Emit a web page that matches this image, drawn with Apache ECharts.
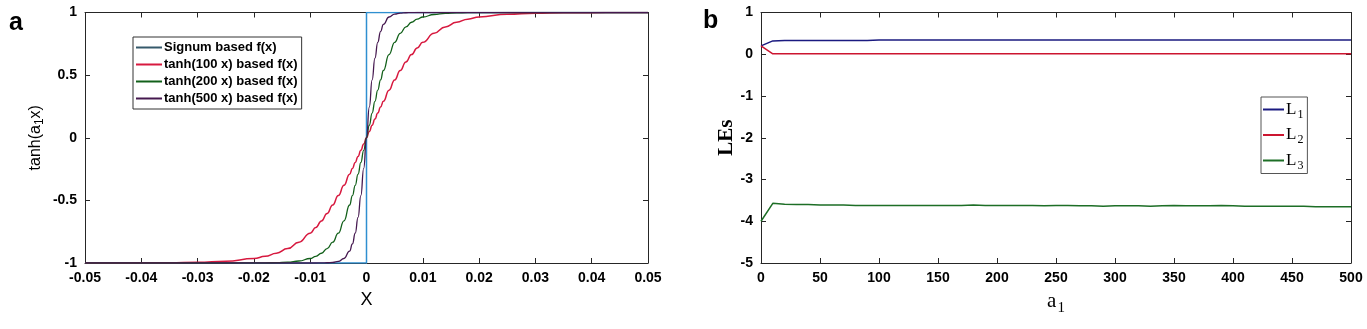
<!DOCTYPE html>
<html><head><meta charset="utf-8">
<script src="https://cdn.jsdelivr.net/npm/echarts@6/dist/echarts.min.js"></script>
<style>html,body{margin:0;padding:0;background:#fff}#c{width:1367px;height:329px}</style>
</head><body><div id="c"></div>
<script>
// ---- Panel a data ----
const xs = [-0.05,-0.045,-0.04,-0.035,-0.03,-0.025,-0.02,-0.018,-0.016,-0.014,-0.012,-0.01,-0.009,-0.008,-0.007,-0.006,-0.005,-0.004,-0.003,-0.0025,-0.002,-0.0015,-0.001,-0.0005,
  0,0.0005,0.001,0.0015,0.002,0.0025,0.003,0.004,0.005,0.006,0.007,0.008,0.009,0.01,0.012,0.014,0.016,0.018,0.02,0.025,0.03,0.035,0.04,0.045,0.05];
const tanh100 = [-1,-1,-0.999,-0.998,-0.995,-0.987,-0.964,-0.947,-0.922,-0.885,-0.834,-0.762,-0.716,-0.664,-0.604,-0.537,-0.462,-0.38,-0.291,-0.245,-0.197,-0.149,-0.1,-0.05,
  0,0.05,0.1,0.149,0.197,0.245,0.291,0.38,0.462,0.537,0.604,0.664,0.716,0.762,0.834,0.885,0.922,0.947,0.964,0.987,0.995,0.998,0.999,1,1];
const tanh200 = [-1,-1,-1,-1,-1,-1,-0.999,-0.999,-0.997,-0.993,-0.984,-0.964,-0.947,-0.922,-0.885,-0.834,-0.762,-0.664,-0.537,-0.462,-0.38,-0.291,-0.197,-0.1,
  0,0.1,0.197,0.291,0.38,0.462,0.537,0.664,0.762,0.834,0.885,0.922,0.947,0.964,0.984,0.993,0.997,0.999,0.999,1,1,1,1,1,1];
const tanh500 = [-1,-1,-1,-1,-1,-1,-1,-1,-1,-1,-1,-1,-1,-0.999,-0.998,-0.995,-0.987,-0.964,-0.905,-0.848,-0.762,-0.635,-0.462,-0.245,
  0,0.245,0.462,0.635,0.762,0.848,0.905,0.964,0.987,0.995,0.998,0.999,1,1,1,1,1,1,1,1,1,1,1,1,1];
const sgnX = [-0.05,0,0,0.05];
const sgnY = [-1,-1,1,1];
const namesA = ['Signum based f(x)','tanh(100 x) based f(x)','tanh(200 x) based f(x)','tanh(500 x) based f(x)'];

// ---- Panel b data ----
const aVals = [0,10,20,30,40,50,60,70,80,90,100,110,120,130,140,150,160,170,180,190,200,210,220,230,240,250,260,270,280,290,300,310,320,330,340,350,360,370,380,390,400,410,420,430,440,450,460,470,480,490,500];
const L1 = [0.2,0.32,0.33,0.33,0.33,0.33,0.33,0.33,0.33,0.33,0.34,0.34,0.34,0.34,0.34,0.34,0.34,0.34,0.34,0.34,0.34,0.34,0.34,0.34,0.34,0.34,0.34,0.34,0.34,0.34,0.34,0.34,0.34,0.34,0.34,0.34,0.34,0.34,0.34,0.34,0.34,0.34,0.34,0.34,0.34,0.34,0.34,0.34,0.34,0.34,0.34];
const L2 = [0.2,0.01,0.01,0.01,0.01,0.01,0.01,0.01,0.01,0.01,0.01,0.01,0.01,0.01,0.01,0.01,0.01,0.01,0.01,0.01,0.01,0.01,0.01,0.01,0.01,0.01,0.01,0.01,0.01,0.01,0.01,0.01,0.01,0.01,0.01,0.01,0.01,0.01,0.01,0.01,0.01,0.01,0.01,0.01,0.01,0.01,0.01,0.01,0.01,0.01,0.01];
const L3 = [-4.0,-3.57,-3.59,-3.6,-3.6,-3.61,-3.61,-3.61,-3.62,-3.62,-3.62,-3.62,-3.62,-3.62,-3.62,-3.62,-3.62,-3.62,-3.61,-3.62,-3.62,-3.62,-3.62,-3.62,-3.63,-3.62,-3.62,-3.63,-3.63,-3.64,-3.63,-3.63,-3.63,-3.64,-3.63,-3.62,-3.63,-3.63,-3.63,-3.62,-3.63,-3.64,-3.64,-3.64,-3.64,-3.64,-3.64,-3.65,-3.65,-3.65,-3.65];
const namesB = ['L1','L2','L3'];

const pairs = (x, y) => x.map((v, i) => [v, y[i]]);
const FONT = '"Liberation Sans", Arial, sans-serif';
const SERIF = '"Liberation Serif", "Times New Roman", serif';
const axCol = '#262626';
const lbl = {color:'#000', fontFamily:FONT, fontWeight:'bold', fontSize:14};
function xAx(grid, min, max, itv, pos, show, fmt) {
  return {type:'value', gridIndex:grid, min, max, interval:itv, position:pos,
    axisLine:{show:true, onZero:false, lineStyle:{color:axCol, width:1}},
    axisTick:{show:true, inside:true, length:5, lineStyle:{color:axCol}},
    axisLabel:Object.assign({show:show, margin:8, formatter:fmt}, lbl),
    splitLine:{show:false}};
}

const chart = echarts.init(document.getElementById('c'), null, {renderer:'canvas'});
const colA = ['#2f8fd0','#d7193f','#12601a','#45184f'];
const colB = ['#1a1a80','#cc1530','#1d6e26'];
chart.setOption({
  animation:false,
  backgroundColor:'#fff',
  grid:[
    {left:85, right:719, top:12.5, bottom:66},
    {left:761, right:16, top:12.5, bottom:66}
  ],
  xAxis:[
    Object.assign(xAx(0,-0.05,0.05,0.01,'bottom',true, v => (Math.abs(v)<1e-9?'0':String(+v.toFixed(2)))),
      {name:'X', nameLocation:'middle', nameGap:28, nameTextStyle:{fontFamily:FONT, fontSize:18, color:'#000'}}),
    xAx(0,-0.05,0.05,0.01,'top',false),
    Object.assign(xAx(1,0,500,50,'bottom',true),
      {name:'a{s|1}', nameLocation:'middle', nameGap:24,
       nameTextStyle:{fontFamily:SERIF, fontSize:21, color:'#000', rich:{s:{fontFamily:SERIF, fontSize:15, color:'#000', padding:[14,0,0,1]}}}}),
    xAx(1,0,500,50,'top',false)
  ],
  yAxis:[
    Object.assign(xAx(0,-1,1,0.5,'left',true),
      {name:'tanh(a{s|1}x)', nameLocation:'middle', nameGap:39,
       nameTextStyle:{fontFamily:FONT, fontSize:16, color:'#000', rich:{s:{fontFamily:FONT, fontSize:12, color:'#000', padding:[9,0,0,0]}}}}),
    xAx(0,-1,1,0.5,'right',false),
    Object.assign(xAx(1,-5,1,1,'left',true),
      {name:'LEs', nameLocation:'middle', nameGap:22,
       nameTextStyle:{fontFamily:SERIF, fontSize:21, fontWeight:'bold', color:'#000'}}),
    xAx(1,-5,1,1,'right',false)
  ],
  legend:[
    {orient:'vertical', left:133, top:37, width:171,
     data:[
       {name:namesA[0], itemStyle:{color:'#35596b'}},
       {name:namesA[1]},{name:namesA[2]},{name:namesA[3]}],
     icon:'rect', itemWidth:26, itemHeight:2, itemGap:4,
     borderColor:'#333', borderWidth:1, borderRadius:0, padding:[4,4,4,3], backgroundColor:'#fff',
     textStyle:{fontFamily:FONT, fontWeight:'bold', fontSize:13, color:'#000', padding:[0,0,0,-3], lineHeight:12.8}},
    {orient:'vertical', left:1261, top:97,
     data:namesB, icon:'rect', itemWidth:21, itemHeight:2, itemGap:6,
     borderColor:'#555', borderWidth:1, borderRadius:0, padding:[4,4,2,2], backgroundColor:'#fff',
     formatter: n => 'L{s|' + n.slice(1) + '}',
     textStyle:{fontFamily:SERIF, fontSize:17, color:'#000', padding:[0,0,0,-3], lineHeight:16,
       rich:{s:{fontFamily:SERIF, fontSize:12, color:'#000', padding:[10,0,0,1]}}}}
  ],
  graphic:[
    {type:'text', left:9, top:11, style:{text:'a', font:'bold 25px "Liberation Sans", Arial', fill:'#000'}},
    {type:'text', left:703, top:9, style:{text:'b', font:'bold 25px "Liberation Sans", Arial', fill:'#000'}}
  ],
  series:[
    {name:namesA[0], type:'line', xAxisIndex:0, yAxisIndex:0, data:pairs(sgnX,sgnY), showSymbol:false, symbol:'none', lineStyle:{color:colA[0], width:1.5}, itemStyle:{color:colA[0]}, z:1},
    {name:namesA[1], type:'line', xAxisIndex:0, yAxisIndex:0, data:pairs(xs,tanh100), symbol:'none', smooth:0.5, smoothMonotone:'x', lineStyle:{color:colA[1], width:1.5}, itemStyle:{color:colA[1]}, z:2},
    {name:namesA[2], type:'line', xAxisIndex:0, yAxisIndex:0, data:pairs(xs,tanh200), symbol:'none', smooth:0.5, smoothMonotone:'x', lineStyle:{color:colA[2], width:1.3}, itemStyle:{color:colA[2]}, z:3},
    {name:namesA[3], type:'line', xAxisIndex:0, yAxisIndex:0, data:pairs(xs,tanh500), symbol:'none', smooth:0.5, smoothMonotone:'x', lineStyle:{color:colA[3], width:1.3}, itemStyle:{color:colA[3]}, z:4},
    {name:namesB[0], type:'line', xAxisIndex:2, yAxisIndex:2, data:pairs(aVals,L1), symbol:'none', lineStyle:{color:colB[0], width:1.5}, itemStyle:{color:colB[0]}},
    {name:namesB[1], type:'line', xAxisIndex:2, yAxisIndex:2, data:pairs(aVals,L2), symbol:'none', lineStyle:{color:colB[1], width:1.5}, itemStyle:{color:colB[1]}},
    {name:namesB[2], type:'line', xAxisIndex:2, yAxisIndex:2, data:pairs(aVals,L3), symbol:'none', lineStyle:{color:colB[2], width:1.5}, itemStyle:{color:colB[2]}}
  ]
});
</script></body></html>
